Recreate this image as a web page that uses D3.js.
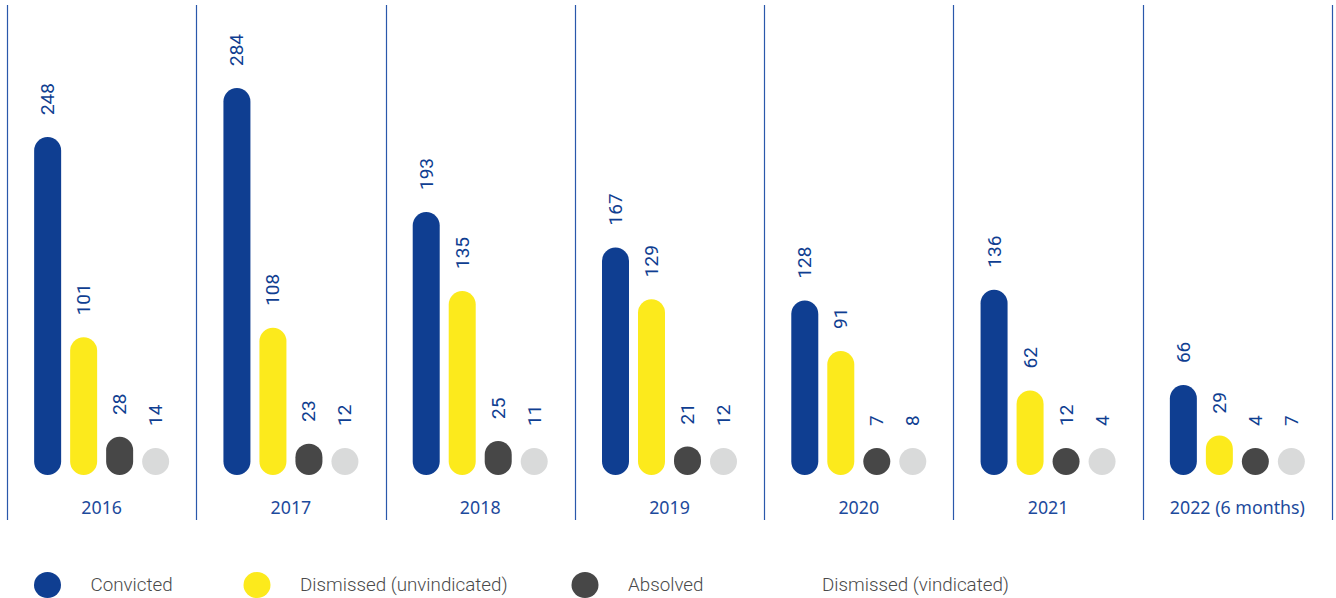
<!DOCTYPE html>
<html>
<head>
<meta charset="utf-8">
<script src="https://cdn.jsdelivr.net/npm/d3@7"></script>
<style>
  body { margin: 0; background: #fff; }
  svg { display: block; }
</style>
</head>
<body>
<div id="chart"></div>
<script>
// data
var years = ['2016', '2017', '2018', '2019', '2020', '2021', '2022 (6 months)'];
var seriesNames = ['Convicted', 'Dismissed (unvindicated)', 'Absolved', 'Dismissed (vindicated)'];
var convicted = [248, 284, 193, 167, 128, 136, 66];
var dismissedUnvindicated = [101, 108, 135, 129, 91, 62, 29];
var absolved = [28, 23, 25, 21, 7, 12, 4];
var dismissedVindicated = [14, 12, 11, 12, 8, 4, 7];

var colors = ['#0f3e91', '#fcea1c', '#474747', '#d9dada'];
var legendColors = ['#0f3e91', '#fcea1c', '#474747', '#ffffff'];

var svgWidth = 1336;
var svgHeight = 598;

var svg = d3.select('#chart')
    .append('svg')
    .attr('width', svgWidth)
    .attr('height', svgHeight);

// build rows for each year
var rows = years.map(function(y, i) {
    return {
        year: y,
        values: [convicted[i], dismissedUnvindicated[i], absolved[i], dismissedVindicated[i]]
    };
});

// scales
var xYear = d3.scaleBand()
    .domain(years)
    .range([7, 1332])
    .padding(0);

var xSeries = d3.scaleBand()
    .domain(seriesNames)
    .range([-72, 72])
    .paddingInner(0.25)
    .paddingOuter(0.125);

var yScale = d3.scaleLinear()
    .domain([0, 284])
    .range([475, 88]);

var barW = xSeries.bandwidth();

// separator lines
var seps = years.map(function(y) { return xYear(y); }).concat([xYear.range()[1]]);
svg.selectAll('line.sep')
    .data(seps)
    .enter()
    .append('line')
    .attr('class', 'sep')
    .attr('x1', d => Math.round(d) + 0.5)
    .attr('x2', d => Math.round(d) + 0.5)
    .attr('y1', 5)
    .attr('y2', 520)
    .attr('stroke', '#2a58ab')
    .attr('stroke-width', 1.2);

// groups per year
var groups = svg.selectAll('g.year')
    .data(rows)
    .enter()
    .append('g')
    .attr('class', 'year')
    .attr('transform', d => `translate(${xYear(d.year) + xYear.bandwidth() / 2}, 0)`);

var items = groups.selectAll('g.bar')
    .data(d => d.values.map((v, j) => ({ v: v, name: seriesNames[j], j: j })))
    .enter()
    .append('g')
    .attr('class', 'bar');

// pills never get shorter than they are wide
function barTop(d) {
    var h = Math.max(yScale(0) - yScale(d.v), barW);
    return yScale(0) - h;
}

items.append('rect')
    .attr('x', d => xSeries(d.name))
    .attr('y', d => barTop(d))
    .attr('width', barW)
    .attr('height', d => yScale(0) - barTop(d))
    .attr('rx', barW / 2)
    .attr('ry', barW / 2)
    .attr('fill', d => colors[d.j]);

items.append('text')
    .attr('transform', d => `translate(${xSeries(d.name) + barW / 2}, ${barTop(d) - 22}) rotate(-90)`)
    .attr('text-anchor', 'start')
    .attr('dominant-baseline', 'central')
    .attr('font-family', 'Roboto, "Noto Sans", sans-serif')
    .attr('font-size', 19)
    .attr('fill', '#0f3e91')
    .text(d => d.v);

// year labels
groups.append('text')
    .attr('x', 0)
    .attr('y', 514)
    .attr('text-anchor', 'middle')
    .attr('font-family', '"Noto Sans", sans-serif')
    .attr('font-size', 17.8)
    .attr('fill', '#1d4a9c')
    .text(d => d.year);

// legend
var legendX = [47.5, 257, 585, 779];
var legend = svg.selectAll('g.legend')
    .data(seriesNames)
    .enter()
    .append('g')
    .attr('class', 'legend')
    .attr('transform', (d, i) => `translate(${legendX[i]}, 585)`);

legend.append('ellipse')
    .attr('rx', 13.5)
    .attr('ry', 13)
    .attr('fill', (d, i) => legendColors[i]);

legend.append('text')
    .attr('x', 43)
    .attr('y', 0)
    .attr('dominant-baseline', 'central')
    .attr('font-family', 'Roboto, sans-serif')
    .attr('font-weight', 300)
    .attr('font-size', 18.8)
    .attr('fill', '#4a4a4a')
    .text(d => d);
</script>
</body>
</html>
